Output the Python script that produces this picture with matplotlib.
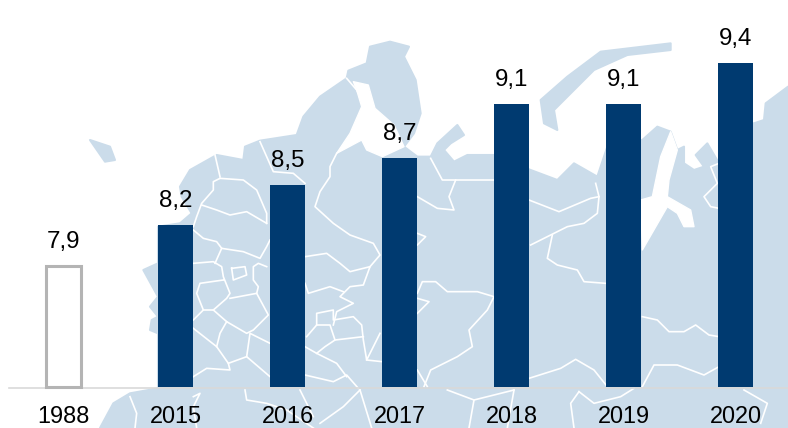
#!/usr/bin/env python3
"""
plot.py - columnas 1988, 2015-2020 sobre un mapa claro de fondo
"""

import matplotlib
matplotlib.use('Agg')
import matplotlib.pyplot as plt
from matplotlib.patches import Polygon

# Datos
years = ['1988', '2015', '2016', '2017', '2018', '2019', '2020']
values = [7.9, 8.2, 8.5, 8.7, 9.1, 9.1, 9.4]
value_labels = ['7,9', '8,2', '8,5', '8,7', '9,1', '9,1', '9,4']

MAP_BLUE = '#cbdcea'
BAR_BLUE = '#003a70'
HOLLOW_GRAY = '#b4b4b4'


def L(*pts):
    return [(x / 3, y / 3) for x, y in pts]


def R(*pts):
    return [(394 + x / 3, y / 3) for x, y in pts]


# Contorno del mapa (decoracion de fondo, en pixeles de la imagen)
land = (
    L((300, 1284), (340, 1210), (390, 1180), (474, 1165), (474, 1000), (450, 990),
      (455, 960), (474, 950), (450, 920), (474, 890), (430, 810), (474, 790),
      (474, 680), (540, 670), (575, 640), (545, 590), (540, 560), (570, 510),
      (650, 465), (730, 480), (735, 440), (780, 422), (890, 405), (910, 350),
      (960, 290), (1040, 235), (1045, 212), (1100, 190), (1110, 140), (1170, 125))
    + R((45, 140), (30, 170), (65, 240), (80, 340), (60, 400), (30, 440), (70, 470),
        (110, 470), (130, 430), (190, 375), (210, 405), (170, 430), (150, 450),
        (180, 485), (220, 465), (300, 465), (410, 510), (490, 540), (540, 490),
        (610, 530), (640, 440), (745, 420), (790, 380), (830, 395), (850, 450),
        (870, 440), (870, 490), (900, 510), (930, 500), (905, 465), (940, 430),
        (975, 490), (975, 370), (1080, 370), (1110, 360), (1115, 310), (1182, 260),
        (1182, 1284))
)
islands = [
    R((440, 300), (520, 230), (620, 155), (830, 130), (830, 150), (700, 165), (600, 210),
      (520, 290), (480, 330), (490, 390), (450, 370)),
    L((270, 420), (330, 440), (345, 480), (315, 485)),
]
water = [
    L((1060, 245), (1105, 255), (1125, 325), (1182, 375)) + R((30, 440))
    + L((1147, 470), (1100, 450), (1085, 420), (1010, 460), (1050, 400), (1085, 320), (1070, 270)),
    R((830, 395), (850, 450), (825, 540), (820, 590), (890, 630), (900, 680), (870, 680),
      (850, 640), (820, 620), (745, 750), (740, 600), (775, 590), (800, 470)),
]
borders = [
    L((645, 465), (660, 530)),
    L((660, 535), (640, 545), (640, 570), (605, 610), (590, 650), (580, 680)),
    L((605, 615), (650, 630), (690, 645), (740, 635), (800, 670)),
    L((660, 535), (730, 540), (770, 570), (800, 640), (800, 670)),
    L((780, 425), (820, 515), (880, 520), (915, 550)),
    L((1040, 235), (1070, 270), (1085, 300)),
    L((1010, 460), (990, 500), (990, 530), (960, 575), (945, 620), (1000, 670), (1050, 705),
      (1120, 730), (1140, 765), (1110, 800), (1090, 855), (1050, 860), (1020, 890), (1060, 910),
      (1010, 935), (1000, 975)),
    L((915, 770), (980, 760), (1020, 790), (1050, 815), (1110, 800)),
    L((915, 850), (925, 880), (990, 860), (1030, 875)),
    L((580, 690), (610, 715), (650, 725), (665, 745), (730, 755), (780, 775), (800, 740), (810, 720)),
    L((580, 790), (640, 785), (665, 800), (670, 830), (690, 880), (680, 895), (640, 930),
      (610, 930), (590, 880), (600, 850), (670, 840)),
    L((665, 745), (645, 790)),
    L((695, 805), (735, 800), (740, 825), (700, 840), (695, 805)),
    L((800, 800), (775, 790), (760, 800), (760, 840), (775, 860), (770, 880), (690, 895)),
    L((770, 880), (805, 945), (760, 990), (740, 1000), (680, 965), (640, 930)),
    L((580, 960), (610, 930)),
    L((580, 985), (650, 1040), (685, 1090), (740, 1070), (750, 1000), (810, 1030)),
    L((680, 965), (660, 1000), (650, 1040)),
    L((740, 1070), (810, 1130), (915, 1125), (1000, 1145), (1040, 1125), (1075, 1165)),
    L((685, 1090), (690, 1110), (620, 1105), (580, 1130)),
    L((915, 1040), (950, 1060), (1010, 1090), (1040, 1130)),
    L((920, 1010), (950, 975), (990, 975), (1005, 1020), (975, 1040), (950, 1060)),
    L((950, 975), (950, 940), (1000, 930), (1000, 960), (1060, 950), (1085, 975), (1090, 1020),
      (1100, 1080), (1140, 1000)),
    L((1005, 1020), (1090, 1010)),
    L((1100, 1080), (1146, 1085)),
    L((580, 1190), (600, 1180), (580, 1220), (590, 1284)),
    L((735, 1170), (740, 1200), (800, 1210), (860, 1230), (940, 1284)),
    L((900, 1170), (940, 1250)),
    L((1080, 1170), (1030, 1220), (960, 1270)),
    L((1080, 1170), (1115, 1284)),
    L((390, 1190), (410, 1240), (405, 1284)),
    R((110, 475), (145, 540), (300, 540)),
    R((185, 540), (165, 590), (180, 630), (130, 625), (70, 590)),
    R((70, 700), (95, 710), (70, 735)),
    R((405, 600), (495, 635), (590, 595), (615, 590), (605, 550)),
    R((410, 735), (480, 700), (520, 680), (570, 670), (610, 640), (615, 590)),
    R((475, 705), (460, 775), (490, 795), (550, 810), (570, 845), (635, 850)),
    R((70, 880), (85, 845), (125, 845), (160, 875), (250, 875), (300, 890), (280, 930), (225, 990),
      (235, 1040), (190, 1070), (150, 1090), (110, 1110), (90, 1160)),
    R((70, 895), (105, 905), (70, 940)),
    R((70, 1110), (100, 1160)),
    R((405, 1135), (500, 1105), (545, 1078), (600, 1110), (640, 1160)),
    R((745, 1160), (780, 1095), (850, 1095), (930, 1125), (975, 1100)),
    R((745, 950), (790, 960), (825, 995), (870, 995), (905, 975), (945, 1005), (975, 1010)),
    R((975, 490), (950, 500), (970, 550), (930, 590), (950, 620), (975, 625)),
    R((160, 1170), (240, 1200), (360, 1170)),
    R((240, 1200), (225, 1284)),
    R((360, 1170), (340, 1284)),
    R((555, 1175), (530, 1210), (540, 1284)),
    R((555, 1175), (600, 1210), (680, 1190), (720, 1165)),
    R((1050, 1170), (1120, 1210), (1100, 1270)),
]

plt.rcParams['font.family'] = ['Liberation Sans', 'DejaVu Sans']

fig = plt.figure(figsize=(7.88, 4.28), dpi=100, facecolor='white')

# Mapa de fondo
bg = fig.add_axes([0, 0, 1, 1], zorder=0)
bg.set_xlim(0, 788)
bg.set_ylim(428, 0)
bg.axis('off')
bg.add_patch(Polygon(land, closed=True, fc=MAP_BLUE, ec=MAP_BLUE, lw=1.5, joinstyle='round'))
for isl in islands:
    bg.add_patch(Polygon(isl, closed=True, fc=MAP_BLUE, ec=MAP_BLUE, lw=1.5, joinstyle='round'))
for w in water:
    bg.add_patch(Polygon(w, closed=True, fc='white', ec='white', lw=1, joinstyle='round', zorder=2))
for b in borders:
    xs, ys = zip(*b)
    bg.plot(xs, ys, color='white', lw=1.2, solid_joinstyle='round', zorder=3)

# Columnas
ax = fig.add_axes([0, (428 - 387.5) / 428, 1, 387.5 / 428], zorder=1)
ax.patch.set_visible(False)
positions = list(range(len(years)))
base = 7.0
heights = [v - base for v in values]

ax.bar(positions[0], heights[0], bottom=base, width=0.31, facecolor='white',
       edgecolor=HOLLOW_GRAY, linewidth=2.2, clip_on=False, zorder=3)
ax.bar(positions[1:], heights[1:], bottom=base, width=0.315, color=BAR_BLUE, zorder=3)

for p, v, txt in zip(positions, values, value_labels):
    ax.annotate(txt, (p, v), xytext=(0, 9.7), textcoords='offset points',
                ha='center', va='bottom', fontsize=17.4, color='black')

ax.set_xlim(-63.5 / 112, 724.5 / 112)
ax.set_ylim(base, base + 387.5 / 135)
ax.set_xticks(positions)
ax.set_xticklabels(years, fontsize=16.9, color='black')
ax.tick_params(axis='x', length=0, pad=12.5)
ax.set_yticks([])
for side in ['top', 'left', 'right']:
    ax.spines[side].set_visible(False)
ax.spines['bottom'].set_color('#d9d9d9')
ax.spines['bottom'].set_linewidth(1.2)
ax.spines['bottom'].set_bounds(-55 / 112, 725 / 112)

fig.savefig('out.png', dpi=100, facecolor='white')
